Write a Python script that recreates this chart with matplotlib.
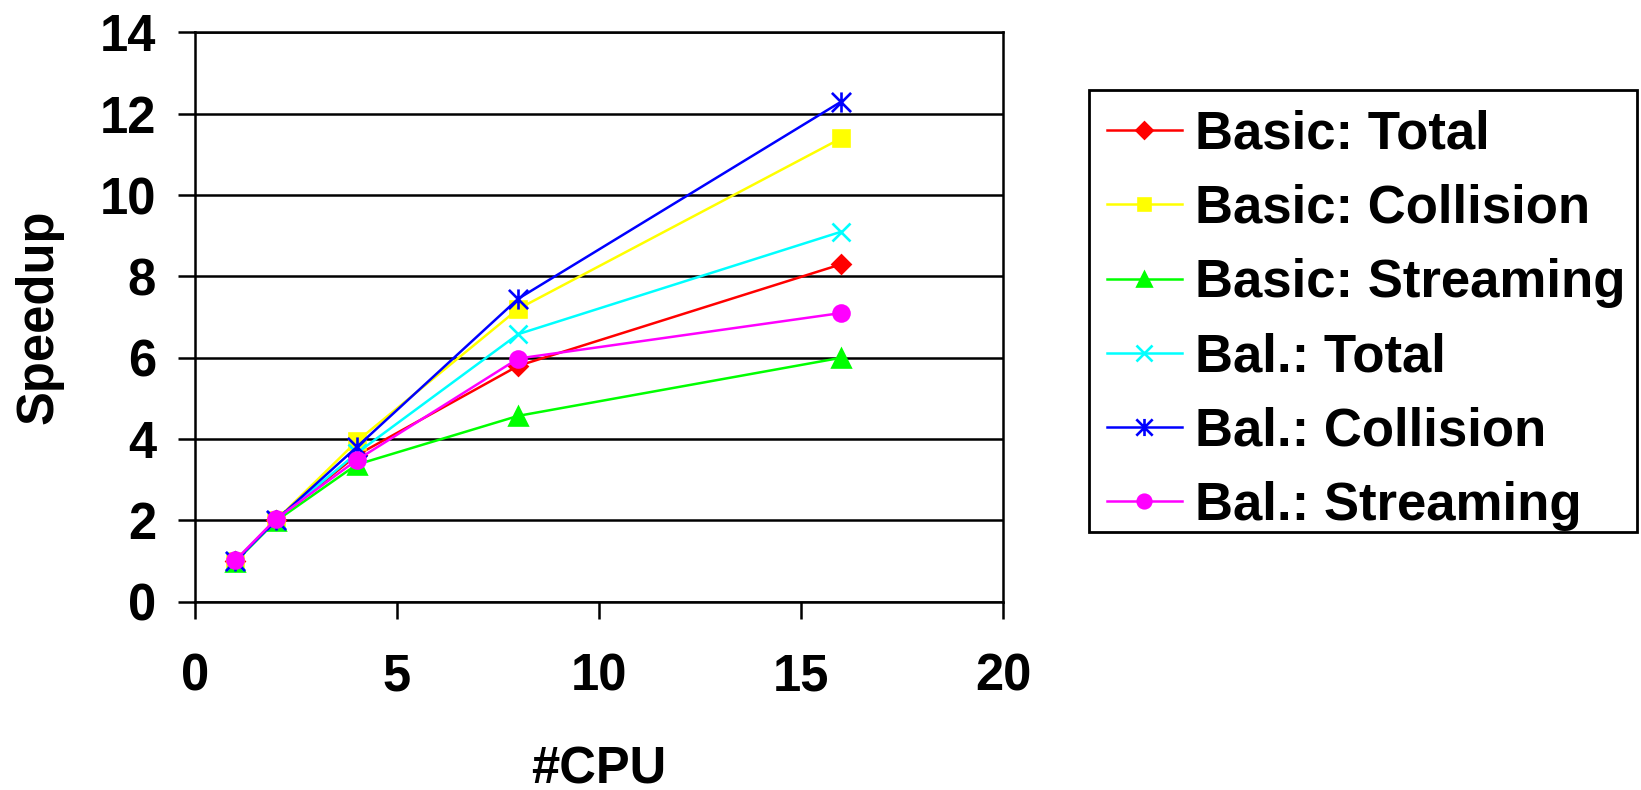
import matplotlib
matplotlib.use("Agg")
import matplotlib.pyplot as plt
from matplotlib.path import Path
from matplotlib.patches import Rectangle

# Speedup measurements per number of CPUs
cpus = [1, 2, 4, 8, 16]
basic_total = [1.0, 2.0, 3.6, 5.8, 8.3]
basic_collision = [1.0, 2.0, 3.94, 7.2, 11.4]
basic_streaming = [0.98, 1.98, 3.37, 4.57, 6.0]
bal_total = [1.0, 2.0, 3.65, 6.58, 9.1]
bal_collision = [1.0, 2.0, 3.8, 7.45, 12.3]
bal_streaming = [1.02, 2.03, 3.48, 5.98, 7.1]

labels = ["Basic: Total", "Basic: Collision", "Basic: Streaming",
          "Bal.: Total", "Bal.: Collision", "Bal.: Streaming"]
xticks = [0, 5, 10, 15, 20]
yticks = [0, 2, 4, 6, 8, 10, 12, 14]

plt.rcParams["font.family"] = ["Liberation Sans", "DejaVu Sans"]
plt.rcParams["font.weight"] = "bold"

W, H = 1641, 790

# asterisk marker: an X crossed by a vertical stroke
star = Path([(-1, -1), (1, 1), (-1, 1), (1, -1), (0, -1.05), (0, 1.05)],
            [Path.MOVETO, Path.LINETO, Path.MOVETO, Path.LINETO,
             Path.MOVETO, Path.LINETO])

series = [
    (basic_total, "#FF0000", "D", 9.5),
    (basic_collision, "#FFFF00", "s", 11),
    (basic_streaming, "#00FF00", "^", 12.5),
    (bal_total, "#00FFFF", "x", 13),
    (bal_collision, "#0000FF", star, 14.5),
    (bal_streaming, "#FF00FF", "o", 11.5),
]

fig = plt.figure(figsize=(W / 100, H / 100), dpi=100)
ax = fig.add_axes([195 / W, 1 - 601.7 / H, 808 / W, 569.3 / H])

for (vals, color, marker, ms), label in zip(series, labels):
    ax.plot(cpus, vals, color=color, marker=marker, markersize=ms,
            linewidth=1.8, markeredgewidth=1.9, markeredgecolor=color,
            markerfacecolor=color, label=label, clip_on=False, zorder=3)

ax.set_xlim(0, 20)
ax.set_ylim(0, 14)
ax.set_xticks(xticks)
ax.set_yticks(yticks)
ax.yaxis.grid(True, color="black", linewidth=1.8)
ax.xaxis.grid(False)
ax.set_axisbelow(True)
for sp in ax.spines.values():
    sp.set_color("black")
    sp.set_linewidth(1.8)

ax.tick_params(axis="both", direction="out", length=12, width=1.8,
               labelsize=36.5, colors="black")
ax.tick_params(axis="x", pad=24.5)
ax.tick_params(axis="y", pad=16)
for t in ax.get_xticklabels() + ax.get_yticklabels():
    t.set_fontweight("bold")

ax.set_xlabel("#CPU", fontsize=36.5, fontweight="bold", va="baseline")
ax.xaxis.set_label_coords(0.5, (601.7 - 784) / 569.3)
ax.set_ylabel("Speedup", fontsize=36.5, fontweight="bold", va="center")
ax.yaxis.set_label_coords((39.5 - 195) / 808, 0.5)

# legend entries without their own frame; the box is drawn separately
leg = fig.legend(loc="upper left", bbox_to_anchor=(1107 / W, 1 - 109.5 / H),
                 frameon=False, prop={"size": 38, "weight": "bold"},
                 handlelength=1.42, handletextpad=0.24, borderpad=0,
                 labelspacing=0.46, borderaxespad=0, markerscale=0.85)
fig.patches.append(Rectangle((1089 / W, 1 - 532 / H), 548 / W, 442 / H,
                             transform=fig.transFigure, fill=False,
                             edgecolor="black", linewidth=2))

fig.savefig("out.png", dpi=100, facecolor="white")
